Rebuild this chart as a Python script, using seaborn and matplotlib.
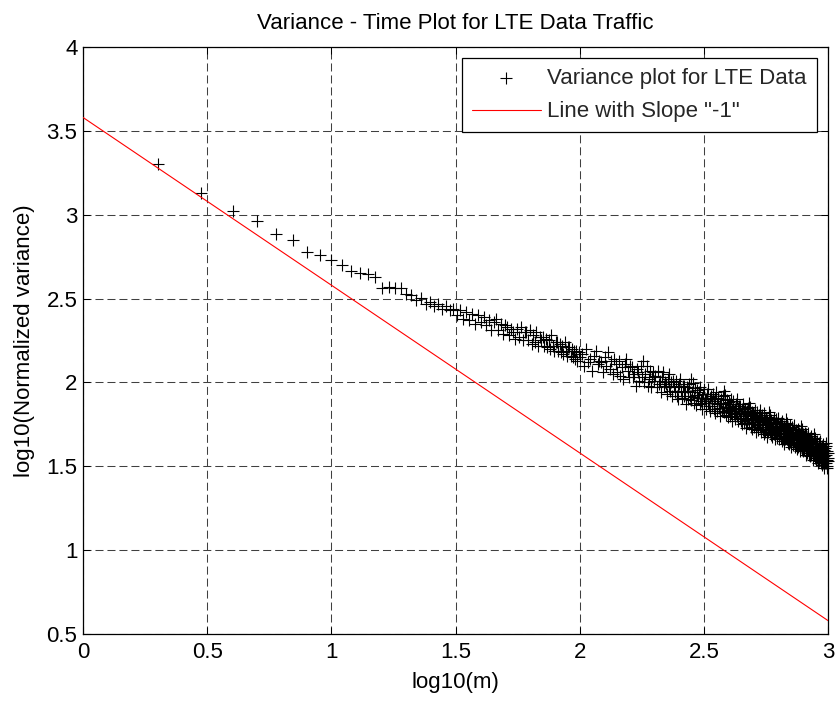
import numpy as np
import pandas as pd
import seaborn as sns
import matplotlib
matplotlib.use("Agg")
import matplotlib.pyplot as plt

# ---------------- data ----------------
# aggregation level m (x axis is log10(m))
m_small = list(range(2, 31))
m_mid = list(range(31, 101))
m_large = list(range(102, 1001, 2))

# log10(normalized variance)
y_small = [3.30, 3.13, 3.02, 2.96, 2.885, 2.85, 2.775, 2.76, 2.73, 2.70,
           2.665, 2.65, 2.648, 2.627, 2.565, 2.567, 2.563, 2.566, 2.53, 2.52,
           2.49, 2.505, 2.47, 2.48, 2.455, 2.47, 2.44, 2.455, 2.43]
y_mid = [
    2.44, 2.40, 2.43, 2.38, 2.42, 2.37, 2.41, 2.35, 2.40, 2.36,
    2.39, 2.34, 2.37, 2.31, 2.36, 2.38, 2.31, 2.35, 2.29, 2.34,
    2.33, 2.28, 2.32, 2.30, 2.26, 2.32, 2.27, 2.33, 2.25, 2.30,
    2.30, 2.25, 2.31, 2.23, 2.28, 2.24, 2.30, 2.22, 2.27, 2.25,
    2.27, 2.22, 2.26, 2.21, 2.25, 2.20, 2.28, 2.22, 2.19, 2.24,
    2.24, 2.19, 2.23, 2.18, 2.22, 2.17, 2.24, 2.19, 2.16, 2.21,
    2.21, 2.16, 2.20, 2.15, 2.19, 2.14, 2.19, 2.13, 2.18, 2.15,
]
y_large = [
    2.17, 2.10, 2.20, 2.12, 2.14, 2.07, 2.16, 2.19, 2.11, 2.13,
    2.12, 2.06, 2.15, 2.10, 2.18, 2.08, 2.13, 2.05, 2.14, 2.11,
    2.06, 2.13, 2.04, 2.09, 2.02, 2.11, 2.14, 2.07, 2.03, 2.10,
    2.09, 2.03, 2.05, 1.98, 2.08, 2.06, 2.01, 2.10, 2.03, 2.13,
    2.00, 2.05, 2.10, 1.98, 2.02, 2.07, 1.97, 2.03, 2.06, 2.01,
    2.04, 1.97, 2.07, 1.99, 2.01, 1.94, 2.03, 2.06, 1.98, 2.00,
    1.99, 1.93, 2.02, 1.97, 2.05, 1.95, 2.00, 1.92, 2.01, 1.98,
    1.94, 2.01, 1.92, 1.97, 1.90, 1.99, 2.02, 1.95, 1.91, 1.98,
    1.98, 1.92, 1.94, 1.87, 1.97, 1.95, 1.90, 1.99, 1.92, 2.02,
    1.895, 1.945, 1.995, 1.875, 1.915, 1.965, 1.865, 1.925, 1.955, 1.905,
    1.94, 1.87, 1.97, 1.89, 1.91, 1.84, 1.93, 1.96, 1.88, 1.90,
    1.90, 1.84, 1.93, 1.88, 1.96, 1.86, 1.91, 1.83, 1.92, 1.89,
    1.86, 1.93, 1.84, 1.89, 1.82, 1.91, 1.94, 1.87, 1.83, 1.90,
    1.91, 1.85, 1.87, 1.80, 1.90, 1.88, 1.83, 1.92, 1.85, 1.95,
    1.825, 1.875, 1.925, 1.805, 1.845, 1.895, 1.795, 1.855, 1.885, 1.835,
    1.87, 1.80, 1.90, 1.82, 1.84, 1.77, 1.86, 1.89, 1.81, 1.83,
    1.84, 1.78, 1.87, 1.82, 1.90, 1.80, 1.85, 1.77, 1.86, 1.83,
    1.79, 1.86, 1.77, 1.82, 1.75, 1.84, 1.87, 1.80, 1.76, 1.83,
    1.84, 1.78, 1.80, 1.73, 1.83, 1.81, 1.76, 1.85, 1.78, 1.88,
    1.755, 1.805, 1.855, 1.735, 1.775, 1.825, 1.725, 1.785, 1.815, 1.765,
    1.805, 1.735, 1.835, 1.755, 1.775, 1.705, 1.795, 1.825, 1.745, 1.765,
    1.775, 1.715, 1.805, 1.755, 1.835, 1.735, 1.785, 1.705, 1.795, 1.765,
    1.735, 1.805, 1.715, 1.765, 1.695, 1.785, 1.815, 1.745, 1.705, 1.775,
    1.785, 1.725, 1.745, 1.675, 1.775, 1.755, 1.705, 1.795, 1.725, 1.825,
    1.705, 1.755, 1.805, 1.685, 1.725, 1.775, 1.675, 1.735, 1.765, 1.715,
    1.76, 1.69, 1.79, 1.71, 1.73, 1.66, 1.75, 1.78, 1.70, 1.72,
    1.73, 1.67, 1.76, 1.71, 1.79, 1.69, 1.74, 1.66, 1.75, 1.72,
    1.69, 1.76, 1.67, 1.72, 1.65, 1.74, 1.77, 1.70, 1.66, 1.73,
    1.74, 1.68, 1.70, 1.63, 1.73, 1.71, 1.66, 1.75, 1.68, 1.78,
    1.66, 1.71, 1.76, 1.64, 1.68, 1.73, 1.63, 1.69, 1.72, 1.67,
    1.715, 1.645, 1.745, 1.665, 1.685, 1.615, 1.705, 1.735, 1.655, 1.675,
    1.685, 1.625, 1.715, 1.665, 1.745, 1.645, 1.695, 1.615, 1.705, 1.675,
    1.645, 1.715, 1.625, 1.675, 1.605, 1.695, 1.725, 1.655, 1.615, 1.685,
    1.70, 1.64, 1.66, 1.59, 1.69, 1.67, 1.62, 1.71, 1.64, 1.74,
    1.62, 1.67, 1.72, 1.60, 1.64, 1.69, 1.59, 1.65, 1.68, 1.63,
    1.67, 1.60, 1.70, 1.62, 1.64, 1.57, 1.66, 1.69, 1.61, 1.63,
    1.64, 1.58, 1.67, 1.62, 1.70, 1.60, 1.65, 1.57, 1.66, 1.63,
    1.60, 1.67, 1.58, 1.63, 1.56, 1.65, 1.68, 1.61, 1.57, 1.64,
    1.65, 1.59, 1.61, 1.54, 1.64, 1.62, 1.57, 1.66, 1.59, 1.69,
    1.57, 1.62, 1.67, 1.55, 1.59, 1.64, 1.54, 1.60, 1.63, 1.58,
    1.62, 1.55, 1.65, 1.57, 1.59, 1.52, 1.61, 1.64, 1.56, 1.58,
    1.59, 1.53, 1.62, 1.57, 1.65, 1.55, 1.60, 1.52, 1.61, 1.58,
    1.55, 1.62, 1.53, 1.58, 1.51, 1.60, 1.63, 1.56, 1.52, 1.59,
    1.60, 1.54, 1.56, 1.49, 1.59, 1.57, 1.52, 1.61, 1.54, 1.64,
    1.52, 1.57, 1.62, 1.50, 1.54, 1.59, 1.49, 1.55, 1.58, 1.53,
]

# reference line with slope -1
line_x = [0.0, 3.0]
line_y = [3.58, 0.58]

x_ticks = [0, 0.5, 1, 1.5, 2, 2.5, 3]
x_tick_labels = ["0", "0.5", "1", "1.5", "2", "2.5", "3"]
y_ticks = [0.5, 1, 1.5, 2, 2.5, 3, 3.5, 4]
y_tick_labels = ["0.5", "1", "1.5", "2", "2.5", "3", "3.5", "4"]

m_all = m_small + m_mid + m_large
y_all = y_small + y_mid + y_large
n = min(len(m_all), len(y_all))
df = pd.DataFrame({"logm": np.log10(np.array(m_all[:n], dtype=float)),
                   "logvar": y_all[:n]})

# ---------------- plot ----------------
sns.set_theme(style="white")
plt.rcParams["font.family"] = ["Liberation Sans", "DejaVu Sans"]
FS = 16

fig = plt.figure(figsize=(8.38, 7.01), dpi=100)
ax = fig.add_axes([83 / 838, 1 - 634 / 701, (828 - 83) / 838, (634 - 47) / 701])

sns.scatterplot(data=df, x="logm", y="logvar", marker="+", color="black",
                s=85, linewidth=0.8, label="Variance plot for LTE Data",
                ax=ax, zorder=3, clip_on=False)
sns.lineplot(x=line_x, y=line_y, color="red", linewidth=0.8,
             label='Line with Slope "-1"', ax=ax, zorder=4)

ax.set_xlim(0, 3)
ax.set_ylim(0.5, 4)
ax.set_xticks(x_ticks)
ax.set_xticklabels(x_tick_labels)
ax.set_yticks(y_ticks)
ax.set_yticklabels(y_tick_labels)

ax.grid(True, color="0.25", linestyle=(0, (7.7, 3.8)), linewidth=0.75)
ax.set_axisbelow(True)
for sp in ax.spines.values():
    sp.set_visible(True)
    sp.set_color("black")
    sp.set_linewidth(0.9)

ax.tick_params(axis="both", direction="in", length=5, width=0.75,
               top=True, right=True, bottom=True, left=True,
               labelsize=FS, colors="black")
ax.tick_params(axis="x", pad=6)
ax.tick_params(axis="y", pad=4)

ax.set_title("Variance - Time Plot for LTE Data Traffic", fontsize=FS, pad=13,
             color="black")
ax.set_xlabel("log10(m)", fontsize=FS, labelpad=6, color="black")
ax.set_ylabel("log10(Normalized variance)", fontsize=FS, labelpad=8,
              color="black")

leg = ax.legend(loc="upper right", fontsize=FS, frameon=True, fancybox=False,
                framealpha=1, edgecolor="black", borderpad=0.45,
                labelspacing=0.55, handlelength=3.1, handletextpad=0.3,
                borderaxespad=0.5, scatterpoints=1)
leg.get_frame().set_linewidth(0.9)
leg.set_zorder(10)

fig.savefig("out.png", dpi=100)
